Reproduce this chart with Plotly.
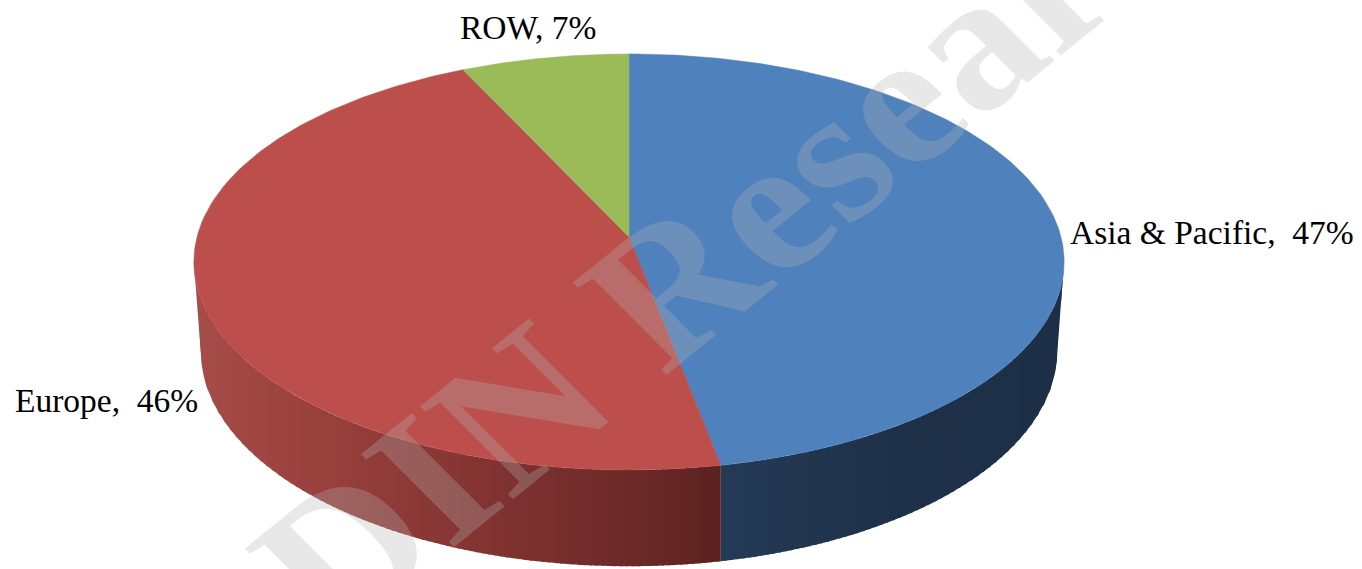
import numpy as np
import plotly.graph_objects as go

categories = ["Asia & Pacific", "Europe", "ROW"]
values = [47, 46, 7]
label_gaps = ["\u00a0\u00a0", "\u00a0\u00a0", " "]
top_colors = ["#4F81BD", "#BC4F4C", "#9BBB59"]
# side wall colour stops by horizontal position: (x pixel, rgb)
side_stops = [
    [(722, (36, 58, 86)), (800, (34, 54, 80)), (900, (30, 49, 73)), (1064, (29, 47, 70))],
    [(195, (166, 76, 73)), (300, (155, 66, 62)), (450, (135, 54, 51)), (600, (112, 44, 43)), (722, (92, 34, 32))],
]
watermark = "DIN Research"

CX, CY, RX, RY, PERSP = 629.0, 237.0, 432.0, 205.0, 0.12
DROP_D, DROP_E = 0.016, 90.0


def project(theta, low=False):
    u, v = np.sin(theta), np.cos(theta)
    d = 1 + PERSP * v + (DROP_D if low else 0)
    return CX + RX * u / d, CY + (-RY * v + (DROP_E if low else 0)) / d


def side_color(x, stops):
    xs = [s[0] for s in stops]
    rgb = [np.interp(x, xs, [s[1][i] for s in stops]) for i in range(3)]
    return "rgb(%d,%d,%d)" % tuple(int(round(c)) for c in rgb)


fig = go.Figure()
edges = np.cumsum([0] + values) / sum(values) * 2 * np.pi


def wall(start, end, stops):
    """Front wall between two rim angles, drawn as overlapping vertical bands."""
    grid = np.linspace(start, end, 500)
    xt, yt = project(grid)
    xl, yl = project(grid, low=True)
    sgn = 1 if xt[-1] > xt[0] else -1
    kt, kl = np.argmax(sgn * xt), np.argmax(sgn * xl)
    top_x, top_y = xt[: kt + 1], yt[: kt + 1]
    low_x = np.append(xl[: kl + 1], xt[kt])
    low_y = np.append(yl[: kl + 1], yt[kt])
    o1, o2 = np.argsort(top_x), np.argsort(low_x)
    xmin, xmax = top_x.min(), top_x.max()
    bounds = np.append(np.arange(xmin, xmax, 6.0), xmax)
    # paint from the slice edge outward so each band overlaps its neighbour
    pairs = list(zip(bounds[:-1], bounds[1:]))
    if sgn < 0:
        pairs = pairs[::-1]
    for x0, x1 in pairs:
        mid = (x0 + x1) / 2
        if sgn > 0:
            a, b = max(xmin, x0 - 2), x1
        else:
            a, b = x0, min(xmax, x1 + 2)
        xs = np.linspace(a, b, 5)
        up = np.interp(xs, top_x[o1], top_y[o1])
        dn = np.interp(xs, low_x[o2], low_y[o2])
        col = side_color(mid, stops)
        fig.add_trace(go.Scatter(
            x=list(xs) + list(xs[::-1]) + [xs[0]],
            y=list(up) + list(dn[::-1]) + [up[0]],
            mode="lines", fill="toself", fillcolor=col,
            line=dict(color=col, width=0), hoverinfo="skip", showlegend=False,
        ))


wall(edges[1], np.pi / 2 - 0.25, side_stops[0])
wall(edges[1], 3 * np.pi / 2 + 0.25, side_stops[1])

for i, cat in enumerate(categories):
    ts = np.linspace(edges[i], edges[i + 1], 160)
    x, y = project(ts)
    fig.add_trace(go.Scatter(
        x=[CX] + list(x) + [CX], y=[CY] + list(y) + [CY],
        mode="lines", fill="toself", fillcolor=top_colors[i],
        line=dict(color=top_colors[i], width=0.5),
        name=cat, text=f"{cat}: {values[i]}%", hoverinfo="text", showlegend=False,
    ))

label_pos = [(1068, 232), (13, 400), (458, 27)]
for cat, val, gap, (lx, ly) in zip(categories, values, label_gaps, label_pos):
    fig.add_annotation(x=lx, y=ly, xref="x", yref="y", text=f"{cat},{gap}{val}%",
                       showarrow=False, xanchor="left", yanchor="middle",
                       font=dict(family="Liberation Serif", size=33.5, color="#000000"))

WM_X, WM_Y, WM_SQUASH = 760, 212, 0.9
fig.add_annotation(x=WM_X, y=WM_Y, xref="x", yref="y", text=f"<b>{watermark}</b>", showarrow=False,
                   textangle=-42, xanchor="center", yanchor="middle",
                   font=dict(family="Liberation Serif", size=212, color="rgba(178,178,178,0.3)"))

fig.update_layout(
    width=1362, height=569, margin=dict(l=0, r=0, t=0, b=0),
    paper_bgcolor="#FFFFFF", plot_bgcolor="#FFFFFF", showlegend=False,
    xaxis=dict(range=[0, 1362], visible=False, fixedrange=True),
    yaxis=dict(range=[569, 0], visible=False, fixedrange=True),
)
post = (
    "document.body.style.margin='0';document.body.style.overflow='hidden';"
    "var anns=document.querySelectorAll('g.annotation');"
    "anns[anns.length-1].setAttribute('transform',"
    f"'translate({WM_X},{WM_Y}) scale(1,{WM_SQUASH}) translate({-WM_X},{-WM_Y})');"
)
fig.write_html("out.html", config={"displayModeBar": False}, post_script=post)
